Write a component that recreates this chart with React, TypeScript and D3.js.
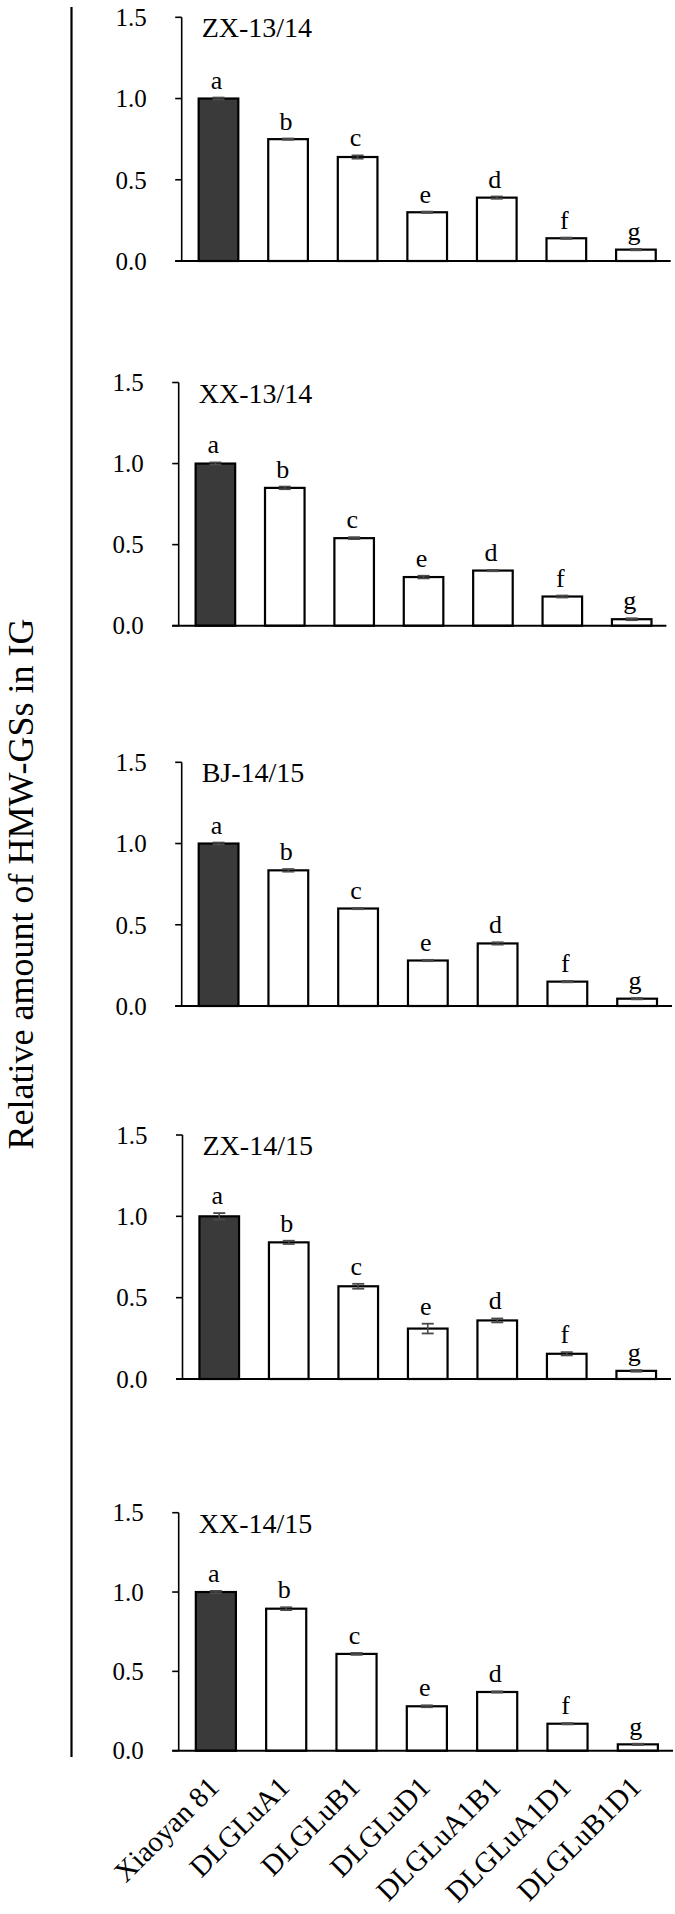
import React from "react";
import * as d3 from "d3";

const categories = ["Xiaoyan 81", "DLGLuA1", "DLGLuB1", "DLGLuD1", "DLGLuA1B1", "DLGLuA1D1", "DLGLuB1D1"];
const panelTitles = ["ZX-13/14", "XX-13/14", "BJ-14/15", "ZX-14/15", "XX-14/15"];
const values = [
  [1.0, 0.75, 0.64, 0.30, 0.39, 0.14, 0.07],
  [1.0, 0.85, 0.54, 0.30, 0.34, 0.18, 0.04],
  [1.0, 0.835, 0.60, 0.28, 0.385, 0.15, 0.045],
  [1.0, 0.84, 0.57, 0.31, 0.36, 0.155, 0.05],
  [1.0, 0.895, 0.61, 0.28, 0.37, 0.17, 0.04],
];
const errors = [
  [0.006, 0.004, 0.01, 0.004, 0.007, 0.004, 0.004],
  [0.007, 0.008, 0.006, 0.008, 0.004, 0.006, 0.006],
  [0.006, 0.008, 0.004, 0.004, 0.007, 0.004, 0.004],
  [0.02, 0.01, 0.015, 0.03, 0.012, 0.01, 0.005],
  [0.007, 0.009, 0.006, 0.006, 0.004, 0.004, 0.004],
];
const letters = ["a", "b", "c", "e", "d", "f", "g"];
const yTicks = [0, 0.5, 1.0, 1.5];
const yTitle = "Relative amount of HMW-GSs in IG";

// layout (pixels)
const layout = [
  { x0: 181.7, x1: 670.7, y0: 261, y15: 17.3 },
  { x0: 178.7, x1: 666.4, y0: 625.7, y15: 382.5 },
  { x0: 181.7, x1: 672, y0: 1006, y15: 762.3 },
  { x0: 182.5, x1: 671, y0: 1379, y15: 1135 },
  { x0: 178.7, x1: 673, y0: 1750.7, y15: 1512.7 },
];

const FONT = "'Liberation Serif', 'Times New Roman', serif";

function Panel({ idx }: { idx: number }) {
  const L = layout[idx];
  const x = d3.scaleBand<string>().domain(categories).range([L.x0 + 2, L.x1]).paddingInner(0.43).paddingOuter(0.215);
  const y = d3.scaleLinear().domain([0, 1.5]).range([L.y0, L.y15]);
  const bw = x.bandwidth();
  const vals = values[idx];
  const errs = errors[idx];
  const last = idx === layout.length - 1;
  return (
    <g>
      <line x1={L.x0} x2={L.x0} y1={y(1.5)} y2={y(0)} stroke="#000" strokeWidth={1.6} />
      {yTicks.map((t) => (
        <g key={t}>
          <line x1={L.x0 - 6.5} x2={L.x0} y1={y(t)} y2={y(t)} stroke="#000" strokeWidth={1.6} />
          <text x={L.x0 - 35} y={y(t)} dy="0.35em" textAnchor="end" fontFamily={FONT} fontSize={25}>
            {d3.format(".1f")(t)}
          </text>
        </g>
      ))}
      {categories.map((c, i) => {
        const bx = x(c)!;
        const cx = bx + bw / 2;
        const v = vals[i];
        const e = errs[i];
        return (
          <g key={c}>
            <rect x={bx} y={y(v)} width={bw} height={y(0) - y(v)} fill={i === 0 ? "#3a3a3a" : "#fff"} stroke="#000" strokeWidth={2.2} />
            <line x1={cx} x2={cx} y1={y(v - e)} y2={y(v + e)} stroke="#4a4a4a" strokeWidth={1.6} />
            <line x1={cx - 6} x2={cx + 6} y1={y(v + e)} y2={y(v + e)} stroke="#4a4a4a" strokeWidth={1.8} />
            <line x1={cx - 6} x2={cx + 6} y1={y(v - e)} y2={y(v - e)} stroke="#4a4a4a" strokeWidth={1.8} />
            <text x={cx - 2} y={y(v + e) - 9} textAnchor="middle" fontFamily={FONT} fontSize={26}>
              {letters[i]}
            </text>
            {last && (
              <text
                transform={`translate(${cx + 5},${y(0) + 38}) rotate(-45)`}
                textAnchor="end"
                fontFamily={FONT}
                fontSize={29}
              >
                {c}
              </text>
            )}
          </g>
        );
      })}
      <line x1={L.x0 - 6.5} x2={L.x1} y1={y(0)} y2={y(0)} stroke="#000" strokeWidth={2} />
      <text x={L.x0 + 20} y={y(1.5) + 20} fontFamily={FONT} fontSize={28}>
        {panelTitles[idx]}
      </text>
    </g>
  );
}

export default function App() {
  return (
    <svg width={675} height={1914} style={{ position: "absolute", left: 0, top: 0, background: "#fff" }}>
      <rect x={0} y={0} width={675} height={1914} fill="#fff" />
      <line x1={71.5} x2={71.5} y1={7} y2={1757} stroke="#000" strokeWidth={2.2} />
      <text transform={`translate(33,884) rotate(-90)`} textAnchor="middle" fontFamily={FONT} fontSize={36}>
        {yTitle}
      </text>
      {layout.map((_, i) => (
        <Panel key={i} idx={i} />
      ))}
    </svg>
  );
}
